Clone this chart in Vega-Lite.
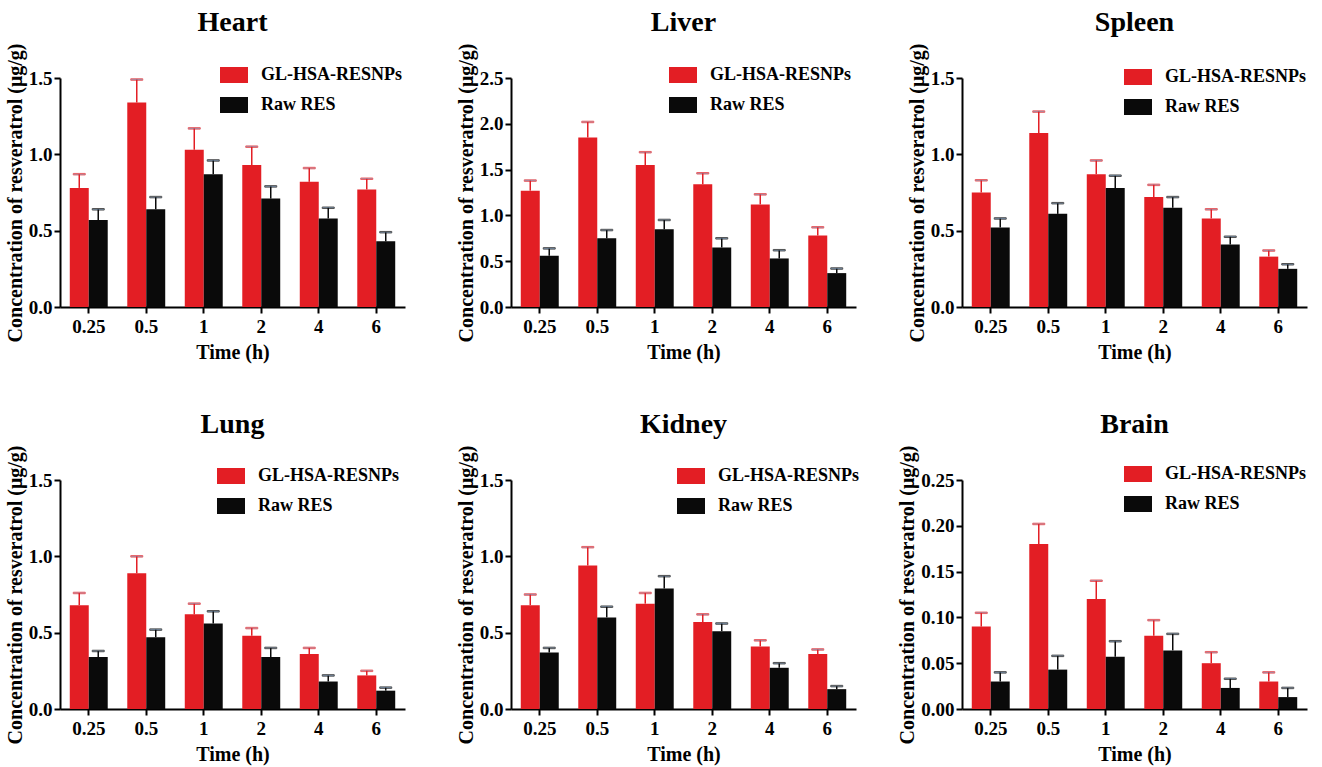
{
  "$schema": "https://vega.github.io/schema/vega-lite/v6.json",
  "background": "white",
  "padding": {"left": 5, "top": 9, "right": 5, "bottom": 5},
  "data": {"values": [
    {"organ":"Heart","time":"0.25","series":"GL-HSA-RESNPs","value":0.78,"upper":0.87},
    {"organ":"Heart","time":"0.25","series":"Raw RES","value":0.57,"upper":0.64},
    {"organ":"Heart","time":"0.5","series":"GL-HSA-RESNPs","value":1.34,"upper":1.49},
    {"organ":"Heart","time":"0.5","series":"Raw RES","value":0.64,"upper":0.72},
    {"organ":"Heart","time":"1","series":"GL-HSA-RESNPs","value":1.03,"upper":1.17},
    {"organ":"Heart","time":"1","series":"Raw RES","value":0.87,"upper":0.96},
    {"organ":"Heart","time":"2","series":"GL-HSA-RESNPs","value":0.93,"upper":1.05},
    {"organ":"Heart","time":"2","series":"Raw RES","value":0.71,"upper":0.79},
    {"organ":"Heart","time":"4","series":"GL-HSA-RESNPs","value":0.82,"upper":0.91},
    {"organ":"Heart","time":"4","series":"Raw RES","value":0.58,"upper":0.65},
    {"organ":"Heart","time":"6","series":"GL-HSA-RESNPs","value":0.77,"upper":0.84},
    {"organ":"Heart","time":"6","series":"Raw RES","value":0.43,"upper":0.49},
    {"organ":"Liver","time":"0.25","series":"GL-HSA-RESNPs","value":1.27,"upper":1.38},
    {"organ":"Liver","time":"0.25","series":"Raw RES","value":0.56,"upper":0.64},
    {"organ":"Liver","time":"0.5","series":"GL-HSA-RESNPs","value":1.85,"upper":2.02},
    {"organ":"Liver","time":"0.5","series":"Raw RES","value":0.75,"upper":0.84},
    {"organ":"Liver","time":"1","series":"GL-HSA-RESNPs","value":1.55,"upper":1.69},
    {"organ":"Liver","time":"1","series":"Raw RES","value":0.85,"upper":0.95},
    {"organ":"Liver","time":"2","series":"GL-HSA-RESNPs","value":1.34,"upper":1.46},
    {"organ":"Liver","time":"2","series":"Raw RES","value":0.65,"upper":0.75},
    {"organ":"Liver","time":"4","series":"GL-HSA-RESNPs","value":1.12,"upper":1.23},
    {"organ":"Liver","time":"4","series":"Raw RES","value":0.53,"upper":0.62},
    {"organ":"Liver","time":"6","series":"GL-HSA-RESNPs","value":0.78,"upper":0.87},
    {"organ":"Liver","time":"6","series":"Raw RES","value":0.37,"upper":0.42},
    {"organ":"Spleen","time":"0.25","series":"GL-HSA-RESNPs","value":0.75,"upper":0.83},
    {"organ":"Spleen","time":"0.25","series":"Raw RES","value":0.52,"upper":0.58},
    {"organ":"Spleen","time":"0.5","series":"GL-HSA-RESNPs","value":1.14,"upper":1.28},
    {"organ":"Spleen","time":"0.5","series":"Raw RES","value":0.61,"upper":0.68},
    {"organ":"Spleen","time":"1","series":"GL-HSA-RESNPs","value":0.87,"upper":0.96},
    {"organ":"Spleen","time":"1","series":"Raw RES","value":0.78,"upper":0.86},
    {"organ":"Spleen","time":"2","series":"GL-HSA-RESNPs","value":0.72,"upper":0.80},
    {"organ":"Spleen","time":"2","series":"Raw RES","value":0.65,"upper":0.72},
    {"organ":"Spleen","time":"4","series":"GL-HSA-RESNPs","value":0.58,"upper":0.64},
    {"organ":"Spleen","time":"4","series":"Raw RES","value":0.41,"upper":0.46},
    {"organ":"Spleen","time":"6","series":"GL-HSA-RESNPs","value":0.33,"upper":0.37},
    {"organ":"Spleen","time":"6","series":"Raw RES","value":0.25,"upper":0.28},
    {"organ":"Lung","time":"0.25","series":"GL-HSA-RESNPs","value":0.68,"upper":0.76},
    {"organ":"Lung","time":"0.25","series":"Raw RES","value":0.34,"upper":0.38},
    {"organ":"Lung","time":"0.5","series":"GL-HSA-RESNPs","value":0.89,"upper":1.00},
    {"organ":"Lung","time":"0.5","series":"Raw RES","value":0.47,"upper":0.52},
    {"organ":"Lung","time":"1","series":"GL-HSA-RESNPs","value":0.62,"upper":0.69},
    {"organ":"Lung","time":"1","series":"Raw RES","value":0.56,"upper":0.64},
    {"organ":"Lung","time":"2","series":"GL-HSA-RESNPs","value":0.48,"upper":0.53},
    {"organ":"Lung","time":"2","series":"Raw RES","value":0.34,"upper":0.40},
    {"organ":"Lung","time":"4","series":"GL-HSA-RESNPs","value":0.36,"upper":0.40},
    {"organ":"Lung","time":"4","series":"Raw RES","value":0.18,"upper":0.22},
    {"organ":"Lung","time":"6","series":"GL-HSA-RESNPs","value":0.22,"upper":0.25},
    {"organ":"Lung","time":"6","series":"Raw RES","value":0.12,"upper":0.14},
    {"organ":"Kidney","time":"0.25","series":"GL-HSA-RESNPs","value":0.68,"upper":0.75},
    {"organ":"Kidney","time":"0.25","series":"Raw RES","value":0.37,"upper":0.40},
    {"organ":"Kidney","time":"0.5","series":"GL-HSA-RESNPs","value":0.94,"upper":1.06},
    {"organ":"Kidney","time":"0.5","series":"Raw RES","value":0.60,"upper":0.67},
    {"organ":"Kidney","time":"1","series":"GL-HSA-RESNPs","value":0.69,"upper":0.76},
    {"organ":"Kidney","time":"1","series":"Raw RES","value":0.79,"upper":0.87},
    {"organ":"Kidney","time":"2","series":"GL-HSA-RESNPs","value":0.57,"upper":0.62},
    {"organ":"Kidney","time":"2","series":"Raw RES","value":0.51,"upper":0.56},
    {"organ":"Kidney","time":"4","series":"GL-HSA-RESNPs","value":0.41,"upper":0.45},
    {"organ":"Kidney","time":"4","series":"Raw RES","value":0.27,"upper":0.30},
    {"organ":"Kidney","time":"6","series":"GL-HSA-RESNPs","value":0.36,"upper":0.39},
    {"organ":"Kidney","time":"6","series":"Raw RES","value":0.13,"upper":0.15},
    {"organ":"Brain","time":"0.25","series":"GL-HSA-RESNPs","value":0.09,"upper":0.105},
    {"organ":"Brain","time":"0.25","series":"Raw RES","value":0.03,"upper":0.04},
    {"organ":"Brain","time":"0.5","series":"GL-HSA-RESNPs","value":0.18,"upper":0.202},
    {"organ":"Brain","time":"0.5","series":"Raw RES","value":0.043,"upper":0.058},
    {"organ":"Brain","time":"1","series":"GL-HSA-RESNPs","value":0.12,"upper":0.14},
    {"organ":"Brain","time":"1","series":"Raw RES","value":0.057,"upper":0.074},
    {"organ":"Brain","time":"2","series":"GL-HSA-RESNPs","value":0.08,"upper":0.097},
    {"organ":"Brain","time":"2","series":"Raw RES","value":0.064,"upper":0.082},
    {"organ":"Brain","time":"4","series":"GL-HSA-RESNPs","value":0.05,"upper":0.062},
    {"organ":"Brain","time":"4","series":"Raw RES","value":0.023,"upper":0.033},
    {"organ":"Brain","time":"6","series":"GL-HSA-RESNPs","value":0.03,"upper":0.04},
    {"organ":"Brain","time":"6","series":"Raw RES","value":0.013,"upper":0.023}
  ]},
  "columns": 3,
  "bounds": "flush",
  "spacing": {"row": 173, "column": 106},
  "resolve": {"scale": {"color": "independent", "stroke": "independent", "y": "independent"}, "legend": {"color": "independent"}},
  "concat": [
    {
      "title": {"text": "Heart", "font": "Liberation Serif", "fontSize": 28, "color": "#000000", "anchor": "middle", "frame": "group", "offset": 6},
      "width": 345, "height": 229, "view": {"stroke": null},
      "transform": [{"filter": "datum.organ === 'Heart'"}],
      "encoding": {
        "x": {"field": "time", "type": "ordinal", "sort": ["0.25","0.5","1","2","4","6"], "scale": {"paddingInner": 0.34, "paddingOuter": 0.17}, "axis": {"title": "Time (h)", "labelAngle": 0, "grid": false, "domainColor": "#000000", "domainWidth": 2, "tickColor": "#000000", "tickWidth": 2, "tickSize": 6, "labelPadding": 4, "labelFont": "Liberation Serif", "labelFontWeight": "bold", "labelFontSize": 19, "labelColor": "#000000", "titleFont": "Liberation Serif", "titleFontSize": 20, "titleColor": "#000000", "titlePadding": 6}},
        "xOffset": {"field": "series", "sort": ["GL-HSA-RESNPs","Raw RES"]}
      },
      "layer": [
        {"mark": {"type": "bar"}, "encoding": {
          "y": {"field": "value", "type": "quantitative", "scale": {"domain": [0, 1.5], "nice": false}, "axis": {"title": "Concentration of resveratrol (μg/g)", "values": [0, 0.5, 1, 1.5], "format": ".1f", "grid": false, "domainColor": "#000000", "domainWidth": 2, "tickColor": "#000000", "tickWidth": 2, "tickSize": 6, "labelPadding": 2, "labelFont": "Liberation Serif", "labelFontWeight": "bold", "labelFontSize": 19, "labelColor": "#000000", "titleFont": "Liberation Serif", "titleFontSize": 20, "titleColor": "#000000", "titlePadding": 3}},
          "color": {"field": "series", "type": "nominal", "scale": {"domain": ["GL-HSA-RESNPs","Raw RES"], "range": ["#e31e24","#0a0a0a"]}, "legend": {"orient": "none", "legendX": 165, "legendY": -12, "title": null, "padding": 0, "symbolType": "M-1.75,-1H1.75V1H-1.75Z", "symbolSize": 256, "symbolStrokeWidth": 0, "symbolOpacity": 1, "labelOffset": 18, "rowPadding": 12, "labelFont": "Liberation Serif", "labelFontWeight": "bold", "labelFontSize": 18, "labelColor": "#000000"}}}},
        {"mark": {"type": "rule", "strokeWidth": 1.5}, "encoding": {"y": {"field": "value", "type": "quantitative"}, "y2": {"field": "upper"}, "stroke": {"field": "series", "type": "nominal", "scale": {"domain": ["GL-HSA-RESNPs","Raw RES"], "range": ["#e31e24","#0a0a0a"]}, "legend": null}}},
        {"mark": {"type": "tick", "size": 12, "thickness": 1.5}, "encoding": {"y": {"field": "upper", "type": "quantitative"}, "stroke": {"field": "series", "type": "nominal", "scale": {"domain": ["GL-HSA-RESNPs","Raw RES"], "range": ["#e31e24","#0a0a0a"]}, "legend": null}}}
      ]
    },
    {
      "title": {"text": "Liver", "font": "Liberation Serif", "fontSize": 28, "color": "#000000", "anchor": "middle", "frame": "group", "offset": 6},
      "width": 345, "height": 229, "view": {"stroke": null},
      "transform": [{"filter": "datum.organ === 'Liver'"}],
      "encoding": {
        "x": {"field": "time", "type": "ordinal", "sort": ["0.25","0.5","1","2","4","6"], "scale": {"paddingInner": 0.34, "paddingOuter": 0.17}, "axis": {"title": "Time (h)", "labelAngle": 0, "grid": false, "domainColor": "#000000", "domainWidth": 2, "tickColor": "#000000", "tickWidth": 2, "tickSize": 6, "labelPadding": 4, "labelFont": "Liberation Serif", "labelFontWeight": "bold", "labelFontSize": 19, "labelColor": "#000000", "titleFont": "Liberation Serif", "titleFontSize": 20, "titleColor": "#000000", "titlePadding": 6}},
        "xOffset": {"field": "series", "sort": ["GL-HSA-RESNPs","Raw RES"]}
      },
      "layer": [
        {"mark": {"type": "bar"}, "encoding": {
          "y": {"field": "value", "type": "quantitative", "scale": {"domain": [0, 2.5], "nice": false}, "axis": {"title": "Concentration of resveratrol (μg/g)", "values": [0, 0.5, 1, 1.5, 2, 2.5], "format": ".1f", "grid": false, "domainColor": "#000000", "domainWidth": 2, "tickColor": "#000000", "tickWidth": 2, "tickSize": 6, "labelPadding": 2, "labelFont": "Liberation Serif", "labelFontWeight": "bold", "labelFontSize": 19, "labelColor": "#000000", "titleFont": "Liberation Serif", "titleFontSize": 20, "titleColor": "#000000", "titlePadding": 3}},
          "color": {"field": "series", "type": "nominal", "scale": {"domain": ["GL-HSA-RESNPs","Raw RES"], "range": ["#e31e24","#0a0a0a"]}, "legend": {"orient": "none", "legendX": 163, "legendY": -12, "title": null, "padding": 0, "symbolType": "M-1.75,-1H1.75V1H-1.75Z", "symbolSize": 256, "symbolStrokeWidth": 0, "symbolOpacity": 1, "labelOffset": 18, "rowPadding": 12, "labelFont": "Liberation Serif", "labelFontWeight": "bold", "labelFontSize": 18, "labelColor": "#000000"}}}},
        {"mark": {"type": "rule", "strokeWidth": 1.5}, "encoding": {"y": {"field": "value", "type": "quantitative"}, "y2": {"field": "upper"}, "stroke": {"field": "series", "type": "nominal", "scale": {"domain": ["GL-HSA-RESNPs","Raw RES"], "range": ["#e31e24","#0a0a0a"]}, "legend": null}}},
        {"mark": {"type": "tick", "size": 12, "thickness": 1.5}, "encoding": {"y": {"field": "upper", "type": "quantitative"}, "stroke": {"field": "series", "type": "nominal", "scale": {"domain": ["GL-HSA-RESNPs","Raw RES"], "range": ["#e31e24","#0a0a0a"]}, "legend": null}}}
      ]
    },
    {
      "title": {"text": "Spleen", "font": "Liberation Serif", "fontSize": 28, "color": "#000000", "anchor": "middle", "frame": "group", "offset": 6},
      "width": 345, "height": 229, "view": {"stroke": null},
      "transform": [{"filter": "datum.organ === 'Spleen'"}],
      "encoding": {
        "x": {"field": "time", "type": "ordinal", "sort": ["0.25","0.5","1","2","4","6"], "scale": {"paddingInner": 0.34, "paddingOuter": 0.17}, "axis": {"title": "Time (h)", "labelAngle": 0, "grid": false, "domainColor": "#000000", "domainWidth": 2, "tickColor": "#000000", "tickWidth": 2, "tickSize": 6, "labelPadding": 4, "labelFont": "Liberation Serif", "labelFontWeight": "bold", "labelFontSize": 19, "labelColor": "#000000", "titleFont": "Liberation Serif", "titleFontSize": 20, "titleColor": "#000000", "titlePadding": 6}},
        "xOffset": {"field": "series", "sort": ["GL-HSA-RESNPs","Raw RES"]}
      },
      "layer": [
        {"mark": {"type": "bar"}, "encoding": {
          "y": {"field": "value", "type": "quantitative", "scale": {"domain": [0, 1.5], "nice": false}, "axis": {"title": "Concentration of resveratrol (μg/g)", "values": [0, 0.5, 1, 1.5], "format": ".1f", "grid": false, "domainColor": "#000000", "domainWidth": 2, "tickColor": "#000000", "tickWidth": 2, "tickSize": 6, "labelPadding": 2, "labelFont": "Liberation Serif", "labelFontWeight": "bold", "labelFontSize": 19, "labelColor": "#000000", "titleFont": "Liberation Serif", "titleFontSize": 20, "titleColor": "#000000", "titlePadding": 3}},
          "color": {"field": "series", "type": "nominal", "scale": {"domain": ["GL-HSA-RESNPs","Raw RES"], "range": ["#e31e24","#0a0a0a"]}, "legend": {"orient": "none", "legendX": 167, "legendY": -10, "title": null, "padding": 0, "symbolType": "M-1.75,-1H1.75V1H-1.75Z", "symbolSize": 256, "symbolStrokeWidth": 0, "symbolOpacity": 1, "labelOffset": 18, "rowPadding": 12, "labelFont": "Liberation Serif", "labelFontWeight": "bold", "labelFontSize": 18, "labelColor": "#000000"}}}},
        {"mark": {"type": "rule", "strokeWidth": 1.5}, "encoding": {"y": {"field": "value", "type": "quantitative"}, "y2": {"field": "upper"}, "stroke": {"field": "series", "type": "nominal", "scale": {"domain": ["GL-HSA-RESNPs","Raw RES"], "range": ["#e31e24","#0a0a0a"]}, "legend": null}}},
        {"mark": {"type": "tick", "size": 12, "thickness": 1.5}, "encoding": {"y": {"field": "upper", "type": "quantitative"}, "stroke": {"field": "series", "type": "nominal", "scale": {"domain": ["GL-HSA-RESNPs","Raw RES"], "range": ["#e31e24","#0a0a0a"]}, "legend": null}}}
      ]
    },
    {
      "title": {"text": "Lung", "font": "Liberation Serif", "fontSize": 28, "color": "#000000", "anchor": "middle", "frame": "group", "offset": 6},
      "width": 345, "height": 229, "view": {"stroke": null},
      "transform": [{"filter": "datum.organ === 'Lung'"}],
      "encoding": {
        "x": {"field": "time", "type": "ordinal", "sort": ["0.25","0.5","1","2","4","6"], "scale": {"paddingInner": 0.34, "paddingOuter": 0.17}, "axis": {"title": "Time (h)", "labelAngle": 0, "grid": false, "domainColor": "#000000", "domainWidth": 2, "tickColor": "#000000", "tickWidth": 2, "tickSize": 6, "labelPadding": 4, "labelFont": "Liberation Serif", "labelFontWeight": "bold", "labelFontSize": 19, "labelColor": "#000000", "titleFont": "Liberation Serif", "titleFontSize": 20, "titleColor": "#000000", "titlePadding": 6}},
        "xOffset": {"field": "series", "sort": ["GL-HSA-RESNPs","Raw RES"]}
      },
      "layer": [
        {"mark": {"type": "bar"}, "encoding": {
          "y": {"field": "value", "type": "quantitative", "scale": {"domain": [0, 1.5], "nice": false}, "axis": {"title": "Concentration of resveratrol (μg/g)", "values": [0, 0.5, 1, 1.5], "format": ".1f", "grid": false, "domainColor": "#000000", "domainWidth": 2, "tickColor": "#000000", "tickWidth": 2, "tickSize": 6, "labelPadding": 2, "labelFont": "Liberation Serif", "labelFontWeight": "bold", "labelFontSize": 19, "labelColor": "#000000", "titleFont": "Liberation Serif", "titleFontSize": 20, "titleColor": "#000000", "titlePadding": 3}},
          "color": {"field": "series", "type": "nominal", "scale": {"domain": ["GL-HSA-RESNPs","Raw RES"], "range": ["#e31e24","#0a0a0a"]}, "legend": {"orient": "none", "legendX": 162, "legendY": -13, "title": null, "padding": 0, "symbolType": "M-1.75,-1H1.75V1H-1.75Z", "symbolSize": 256, "symbolStrokeWidth": 0, "symbolOpacity": 1, "labelOffset": 18, "rowPadding": 12, "labelFont": "Liberation Serif", "labelFontWeight": "bold", "labelFontSize": 18, "labelColor": "#000000"}}}},
        {"mark": {"type": "rule", "strokeWidth": 1.5}, "encoding": {"y": {"field": "value", "type": "quantitative"}, "y2": {"field": "upper"}, "stroke": {"field": "series", "type": "nominal", "scale": {"domain": ["GL-HSA-RESNPs","Raw RES"], "range": ["#e31e24","#0a0a0a"]}, "legend": null}}},
        {"mark": {"type": "tick", "size": 12, "thickness": 1.5}, "encoding": {"y": {"field": "upper", "type": "quantitative"}, "stroke": {"field": "series", "type": "nominal", "scale": {"domain": ["GL-HSA-RESNPs","Raw RES"], "range": ["#e31e24","#0a0a0a"]}, "legend": null}}}
      ]
    },
    {
      "title": {"text": "Kidney", "font": "Liberation Serif", "fontSize": 28, "color": "#000000", "anchor": "middle", "frame": "group", "offset": 6},
      "width": 345, "height": 229, "view": {"stroke": null},
      "transform": [{"filter": "datum.organ === 'Kidney'"}],
      "encoding": {
        "x": {"field": "time", "type": "ordinal", "sort": ["0.25","0.5","1","2","4","6"], "scale": {"paddingInner": 0.34, "paddingOuter": 0.17}, "axis": {"title": "Time (h)", "labelAngle": 0, "grid": false, "domainColor": "#000000", "domainWidth": 2, "tickColor": "#000000", "tickWidth": 2, "tickSize": 6, "labelPadding": 4, "labelFont": "Liberation Serif", "labelFontWeight": "bold", "labelFontSize": 19, "labelColor": "#000000", "titleFont": "Liberation Serif", "titleFontSize": 20, "titleColor": "#000000", "titlePadding": 6}},
        "xOffset": {"field": "series", "sort": ["GL-HSA-RESNPs","Raw RES"]}
      },
      "layer": [
        {"mark": {"type": "bar"}, "encoding": {
          "y": {"field": "value", "type": "quantitative", "scale": {"domain": [0, 1.5], "nice": false}, "axis": {"title": "Concentration of resveratrol (μg/g)", "values": [0, 0.5, 1, 1.5], "format": ".1f", "grid": false, "domainColor": "#000000", "domainWidth": 2, "tickColor": "#000000", "tickWidth": 2, "tickSize": 6, "labelPadding": 2, "labelFont": "Liberation Serif", "labelFontWeight": "bold", "labelFontSize": 19, "labelColor": "#000000", "titleFont": "Liberation Serif", "titleFontSize": 20, "titleColor": "#000000", "titlePadding": 3}},
          "color": {"field": "series", "type": "nominal", "scale": {"domain": ["GL-HSA-RESNPs","Raw RES"], "range": ["#e31e24","#0a0a0a"]}, "legend": {"orient": "none", "legendX": 171, "legendY": -13, "title": null, "padding": 0, "symbolType": "M-1.75,-1H1.75V1H-1.75Z", "symbolSize": 256, "symbolStrokeWidth": 0, "symbolOpacity": 1, "labelOffset": 18, "rowPadding": 12, "labelFont": "Liberation Serif", "labelFontWeight": "bold", "labelFontSize": 18, "labelColor": "#000000"}}}},
        {"mark": {"type": "rule", "strokeWidth": 1.5}, "encoding": {"y": {"field": "value", "type": "quantitative"}, "y2": {"field": "upper"}, "stroke": {"field": "series", "type": "nominal", "scale": {"domain": ["GL-HSA-RESNPs","Raw RES"], "range": ["#e31e24","#0a0a0a"]}, "legend": null}}},
        {"mark": {"type": "tick", "size": 12, "thickness": 1.5}, "encoding": {"y": {"field": "upper", "type": "quantitative"}, "stroke": {"field": "series", "type": "nominal", "scale": {"domain": ["GL-HSA-RESNPs","Raw RES"], "range": ["#e31e24","#0a0a0a"]}, "legend": null}}}
      ]
    },
    {
      "title": {"text": "Brain", "font": "Liberation Serif", "fontSize": 28, "color": "#000000", "anchor": "middle", "frame": "group", "offset": 6},
      "width": 345, "height": 229, "view": {"stroke": null},
      "transform": [{"filter": "datum.organ === 'Brain'"}],
      "encoding": {
        "x": {"field": "time", "type": "ordinal", "sort": ["0.25","0.5","1","2","4","6"], "scale": {"paddingInner": 0.34, "paddingOuter": 0.17}, "axis": {"title": "Time (h)", "labelAngle": 0, "grid": false, "domainColor": "#000000", "domainWidth": 2, "tickColor": "#000000", "tickWidth": 2, "tickSize": 6, "labelPadding": 4, "labelFont": "Liberation Serif", "labelFontWeight": "bold", "labelFontSize": 19, "labelColor": "#000000", "titleFont": "Liberation Serif", "titleFontSize": 20, "titleColor": "#000000", "titlePadding": 6}},
        "xOffset": {"field": "series", "sort": ["GL-HSA-RESNPs","Raw RES"]}
      },
      "layer": [
        {"mark": {"type": "bar"}, "encoding": {
          "y": {"field": "value", "type": "quantitative", "scale": {"domain": [0, 0.25], "nice": false}, "axis": {"title": "Concentration of resveratrol (μg/g)", "values": [0, 0.05, 0.1, 0.15, 0.2, 0.25], "format": ".2f", "grid": false, "domainColor": "#000000", "domainWidth": 2, "tickColor": "#000000", "tickWidth": 2, "tickSize": 6, "labelPadding": 2, "labelFont": "Liberation Serif", "labelFontWeight": "bold", "labelFontSize": 19, "labelColor": "#000000", "titleFont": "Liberation Serif", "titleFontSize": 20, "titleColor": "#000000", "titlePadding": 3}},
          "color": {"field": "series", "type": "nominal", "scale": {"domain": ["GL-HSA-RESNPs","Raw RES"], "range": ["#e31e24","#0a0a0a"]}, "legend": {"orient": "none", "legendX": 167, "legendY": -15, "title": null, "padding": 0, "symbolType": "M-1.75,-1H1.75V1H-1.75Z", "symbolSize": 256, "symbolStrokeWidth": 0, "symbolOpacity": 1, "labelOffset": 18, "rowPadding": 12, "labelFont": "Liberation Serif", "labelFontWeight": "bold", "labelFontSize": 18, "labelColor": "#000000"}}}},
        {"mark": {"type": "rule", "strokeWidth": 1.5}, "encoding": {"y": {"field": "value", "type": "quantitative"}, "y2": {"field": "upper"}, "stroke": {"field": "series", "type": "nominal", "scale": {"domain": ["GL-HSA-RESNPs","Raw RES"], "range": ["#e31e24","#0a0a0a"]}, "legend": null}}},
        {"mark": {"type": "tick", "size": 12, "thickness": 1.5}, "encoding": {"y": {"field": "upper", "type": "quantitative"}, "stroke": {"field": "series", "type": "nominal", "scale": {"domain": ["GL-HSA-RESNPs","Raw RES"], "range": ["#e31e24","#0a0a0a"]}, "legend": null}}}
      ]
    }
  ]
}
